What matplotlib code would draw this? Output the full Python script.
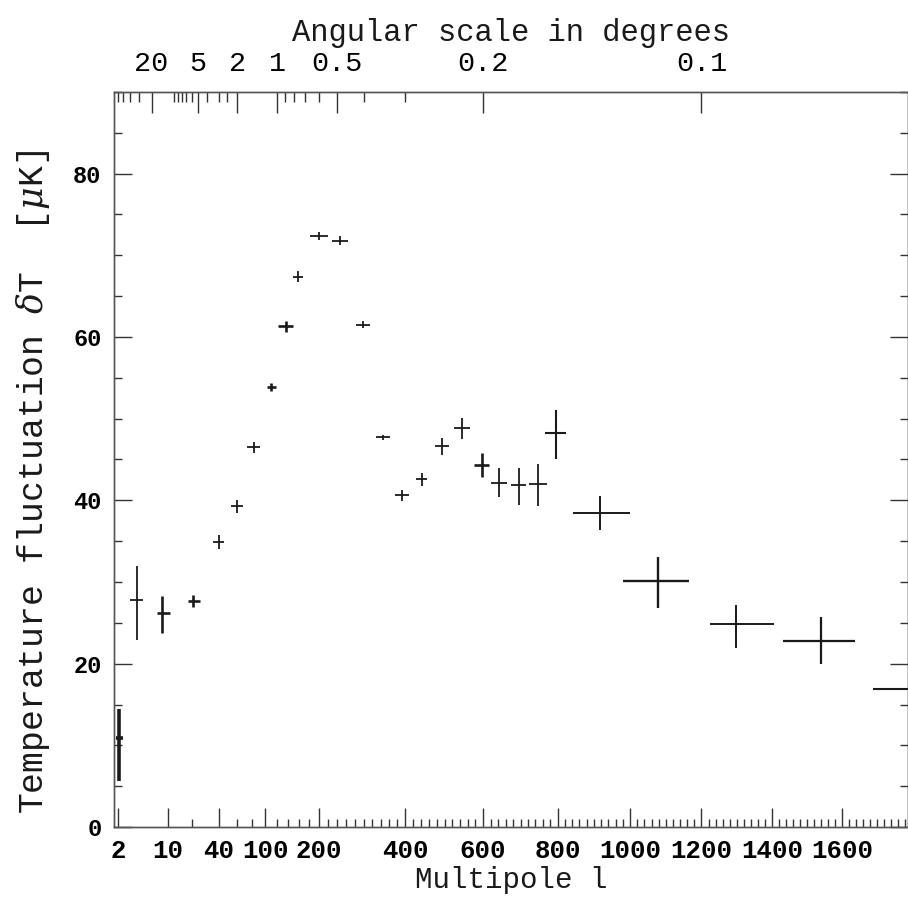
import numpy as np
import matplotlib.pyplot as plt

# CMB band powers: multipole l, dT [uK] and errors
ell    = [2.1, 3.7, 8.3, 21, 40, 60, 82, 110, 135, 158, 200, 247, 299, 345, 392,
          441, 492, 544, 597, 642, 695, 747, 797, 916, 1077, 1297, 1540, 1800]
ell_lo = [0.26, 0.7, 1.2, 3, 5, 7, 9, 8, 13, 10, 19, 18, 16, 17, 17,
          15, 18, 21, 20, 21, 20, 24, 32, 74, 98, 72, 110, 110]
ell_hi = [0.3, 0.9, 2.2, 4, 5, 7, 9, 8, 13, 10, 19, 18, 16, 17, 17,
          15, 18, 21, 20, 21, 20, 24, 25, 85, 88, 108, 97, 100]
dT     = [10.9, 27.8, 26.2, 27.7, 34.9, 39.3, 46.5, 53.9, 61.3, 67.4, 72.4, 71.8, 61.5, 47.7, 40.6,
          42.6, 46.6, 48.8, 44.3, 42.1, 41.9, 42.0, 48.2, 38.4, 30.1, 24.8, 22.8, 16.9]
dT_lo  = [5.3, 4.9, 2.4, 0.75, 0.8, 0.8, 0.7, 0.5, 0.7, 0.7, 0.5, 0.55, 0.4, 0.3, 0.7,
          0.8, 1.0, 1.3, 1.5, 1.7, 2.5, 2.7, 3.1, 2.0, 3.3, 2.9, 2.9, 3.0]
dT_hi  = [3.5, 4.1, 2.1, 0.75, 0.8, 0.8, 0.7, 0.5, 0.7, 0.7, 0.5, 0.55, 0.4, 0.3, 0.7,
          0.8, 1.0, 1.3, 1.5, 1.8, 2.0, 2.5, 2.8, 2.1, 3.0, 2.4, 2.9, 3.0]
# line weight of each cross
lws    = [2.6, 1.3, 1.9, 1.9, 1.3, 1.3, 1.3, 1.9, 1.9, 1.3, 1.3, 1.3, 1.3, 1.3, 1.3,
          1.3, 1.3, 1.3, 1.9, 1.3, 1.3, 1.3, 1.5, 1.4, 1.7, 1.4, 1.6, 1.5]

x_major = [2, 10, 40, 100, 200, 400, 600, 800, 1000, 1200, 1400, 1600]
x_minor = [20, 60, 80] + [l for l in range(120, 1800, 20) if l not in x_major]
theta_major = [20, 5, 2, 1, 0.5, 0.2, 0.1]
theta_labels = ['20', '5', '2', '1', '0.5', '0.2', '0.1']
theta_minor = [60, 50, 40, 30, 10, 9, 8, 7, 6, 4, 3, 2.5, 0.9, 0.8, 0.7, 0.6, 0.4, 0.3]


# axis is log-like at low l and linear at high l
def fwd(l):
    l = np.clip(np.asarray(l, float), 1e-3, None)
    return np.log10(l) + l / 205.0

_grid = np.logspace(-3, 4.5, 20000)
def inv(u):
    return np.interp(u, fwd(_grid), _grid)

plt.rcParams['mathtext.fontset'] = 'custom'
plt.rcParams['mathtext.it'] = 'DejaVu Serif:italic'
ink = '#1a1a1a'
mono = 'Liberation Mono'

fig = plt.figure(figsize=(9.08, 9.06), dpi=100)
ax = fig.add_axes([114/908, 1 - 827/906, 1 - 114/908, (827 - 92)/906])
ax.set_xscale('function', functions=(fwd, inv))
ax.set_xlim(1.75, 1790)
ax.set_ylim(0, 90)

for i in range(len(ell)):
    ax.errorbar(ell[i], dT[i],
                xerr=[[ell_lo[i]], [ell_hi[i]]], yerr=[[dT_lo[i]], [dT_hi[i]]],
                fmt='none', ecolor=ink, elinewidth=lws[i], capsize=0, clip_on=True)

for s in ax.spines.values():
    s.set_color('#555555')
    s.set_linewidth(1.0)

ax.set_xticks(x_major, [str(v) for v in x_major], fontfamily=mono, fontweight='bold', fontsize=18.5)
ax.set_xticks(x_minor, minor=True)
ax.set_yticks([0, 20, 40, 60, 80], ['0', '20', '40', '60', '80'], fontfamily=mono, fontweight='bold', fontsize=17)
ax.set_yticks(np.arange(0, 91, 5), minor=True)
ax.tick_params(which='both', direction='in', color='#333333', width=1.0, top=False, right=True)
ax.tick_params(axis='x', which='major', length=14, pad=9)
ax.tick_params(axis='x', which='minor', length=6)
ax.tick_params(axis='y', which='major', length=13, pad=9)
ax.tick_params(axis='y', which='minor', length=6)

ax.set_xlabel('Multipole l', fontfamily=mono, fontsize=21, color=ink, labelpad=2)
ax.set_ylabel(r'Temperature fluctuation $\delta$T  [$\mu$K]', fontfamily=mono, fontsize=25, color=ink)
ax.yaxis.set_label_coords(-0.078, 0.47)

# angular scale along the top: theta ~ 120 / l degrees
ax2 = ax.twiny()
ax2.set_xscale('function', functions=(fwd, inv))
ax2.set_xlim(ax.get_xlim())
ax2.set_xticks([120.0 / t for t in theta_major], theta_labels, fontfamily=mono, fontsize=20.5)
ax2.set_xticks([120.0 / t for t in theta_minor], minor=True)
ax2.tick_params(which='both', direction='in', color='#333333', width=1.0)
ax2.tick_params(which='major', length=15, pad=11)
ax2.tick_params(which='minor', length=7)
ax2.set_xlabel('Angular scale in degrees', fontfamily=mono, fontsize=22, color=ink, labelpad=7)
for s in ax2.spines.values():
    s.set_color('#555555')
    s.set_linewidth(1.0)

fig.savefig('out.png', dpi=100)
